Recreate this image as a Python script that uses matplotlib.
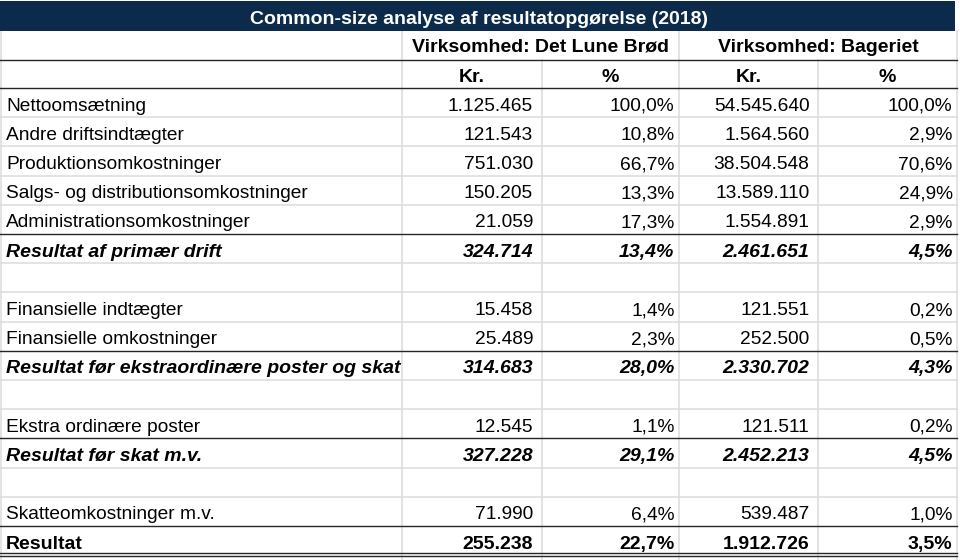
import matplotlib
matplotlib.use("Agg")
import matplotlib.pyplot as plt
from matplotlib.patches import Rectangle

plt.rcParams['font.family'] = ['Liberation Sans', 'DejaVu Sans']

# ---- data ----
title = "Common-size analyse af resultatopgørelse (2018)"
companies = ["Virksomhed: Det Lune Brød", "Virksomhed: Bageriet"]
sub_headers = ["Kr.", "%", "Kr.", "%"]
labels = ["Nettoomsætning", "Andre driftsindtægter", "Produktionsomkostninger",
          "Salgs- og distributionsomkostninger", "Administrationsomkostninger",
          "Resultat af primær drift", "", "Finansielle indtægter",
          "Finansielle omkostninger", "Resultat før ekstraordinære poster og skat",
          "", "Ekstra ordinære poster", "Resultat før skat m.v.", "",
          "Skatteomkostninger m.v.", "Resultat"]
lune_kr = [1125465, 121543, 751030, 150205, 21059, 324714, None, 15458, 25489,
           314683, None, 12545, 327228, None, 71990, 255238]
lune_pct = [100.0, 10.8, 66.7, 13.3, 17.3, 13.4, None, 1.4, 2.3, 28.0, None,
            1.1, 29.1, None, 6.4, 22.7]
bag_kr = [54545640, 1564560, 38504548, 13589110, 1554891, 2461651, None, 121551,
          252500, 2330702, None, 121511, 2452213, None, 539487, 1912726]
bag_pct = [100.0, 2.9, 70.6, 24.9, 2.9, 4.5, None, 0.2, 0.5, 4.3, None, 0.2,
           4.5, None, 1.0, 3.5]
row_kind = ["n", "n", "n", "n", "n", "bi", "blank", "n", "n", "bi", "blank",
            "n", "bi", "blank", "n", "b"]

# ---- layout (pixels) ----
W, H = 960, 560
col_edges = [1, 402, 542, 679, 818, 957]
title_top, title_bot = 1, 31
hdr1_bot, hdr2_bot = 60, 88
row_h = 29.2
FS = 13.75
FSB = 14.0
GRAY = "#DADADA"
DARK = "#262626"
NAVY = "#0C2B4B"


def fmt_kr(v):
    return f"{v:,}".replace(",", ".")


def fmt_pct(v):
    return f"{v:.1f}".replace(".", ",") + "%"


fig = plt.figure(figsize=(W / 100, H / 100), dpi=100)
ax = fig.add_axes([0, 0, 1, 1])
ax.set_xlim(0, W)
ax.set_ylim(H, 0)
ax.axis("off")

glw = 1.5 * 72 / 100
dlw = 1.4 * 72 / 100

n = len(labels)
row_tops = [hdr2_bot + i * row_h for i in range(n + 1)]
bottom = row_tops[-1]

# vertical gridlines
for i, x in enumerate(col_edges):
    if i in (2, 4):
        ax.plot([x, x], [hdr1_bot, H], color=GRAY, lw=glw, zorder=1)
    else:
        ax.plot([x, x], [title_bot, H], color=GRAY, lw=glw, zorder=1)

# horizontal gridlines
for i, y in enumerate(row_tops[1:-1], start=1):
    kind = row_kind[i]
    if kind in ("bi", "b"):
        ax.plot([0, col_edges[-1]], [y, y], color=DARK, lw=dlw, zorder=3)
    else:
        ax.plot([0, col_edges[-1]], [y, y], color=GRAY, lw=glw, zorder=2)
for y in (hdr1_bot, hdr2_bot):
    ax.plot([0, col_edges[-1]], [y, y], color=DARK, lw=dlw, zorder=3)
ax.plot([0, col_edges[-1]], [bottom - 1.8, bottom - 1.8], color=DARK, lw=dlw, zorder=3)
ax.plot([0, col_edges[-1]], [bottom + 0.6, bottom + 0.6], color=DARK, lw=dlw, zorder=3)

# title bar
ax.add_patch(Rectangle((0, title_top), 955, title_bot - title_top,
                       facecolor=NAVY, edgecolor="none", zorder=4))
ax.text(479, title_top + 22.5, title, color="white", fontsize=FSB,
        fontweight="bold", ha="center", va="baseline", zorder=5)

# company headers
ax.text((col_edges[1] + col_edges[3]) / 2, title_bot + 20.8, companies[0],
        fontsize=FSB, fontweight="bold", ha="center", va="baseline")
ax.text((col_edges[3] + col_edges[5]) / 2, title_bot + 20.8, companies[1],
        fontsize=FSB, fontweight="bold", ha="center", va="baseline")
for j, s in enumerate(sub_headers):
    cx = (col_edges[j + 1] + col_edges[j + 2]) / 2
    ax.text(cx, hdr1_bot + 21.7, s, fontsize=FSB, fontweight="bold",
            ha="center", va="baseline")

# body
cols = [(lune_kr, fmt_kr, 9), (lune_pct, fmt_pct, 4.5),
        (bag_kr, fmt_kr, 8.5), (bag_pct, fmt_pct, 4.5)]
for i in range(n):
    kind = row_kind[i]
    if kind == "blank":
        continue
    bold = kind in ("bi", "b")
    weight = "bold" if bold else "normal"
    style = "italic" if kind == "bi" else "normal"
    fs = FSB if bold else FS
    yb = row_tops[i] + 22.6
    ax.text(6, yb, labels[i], fontsize=fs, fontweight=weight, fontstyle=style,
            ha="left", va="baseline")
    for j, (arr, f, pad) in enumerate(cols):
        v = arr[i]
        if v is None:
            continue
        ax.text(col_edges[j + 2] - pad, yb, f(v), fontsize=fs,
                fontweight=weight, fontstyle=style, ha="right", va="baseline")

fig.savefig("out.png", dpi=100)
